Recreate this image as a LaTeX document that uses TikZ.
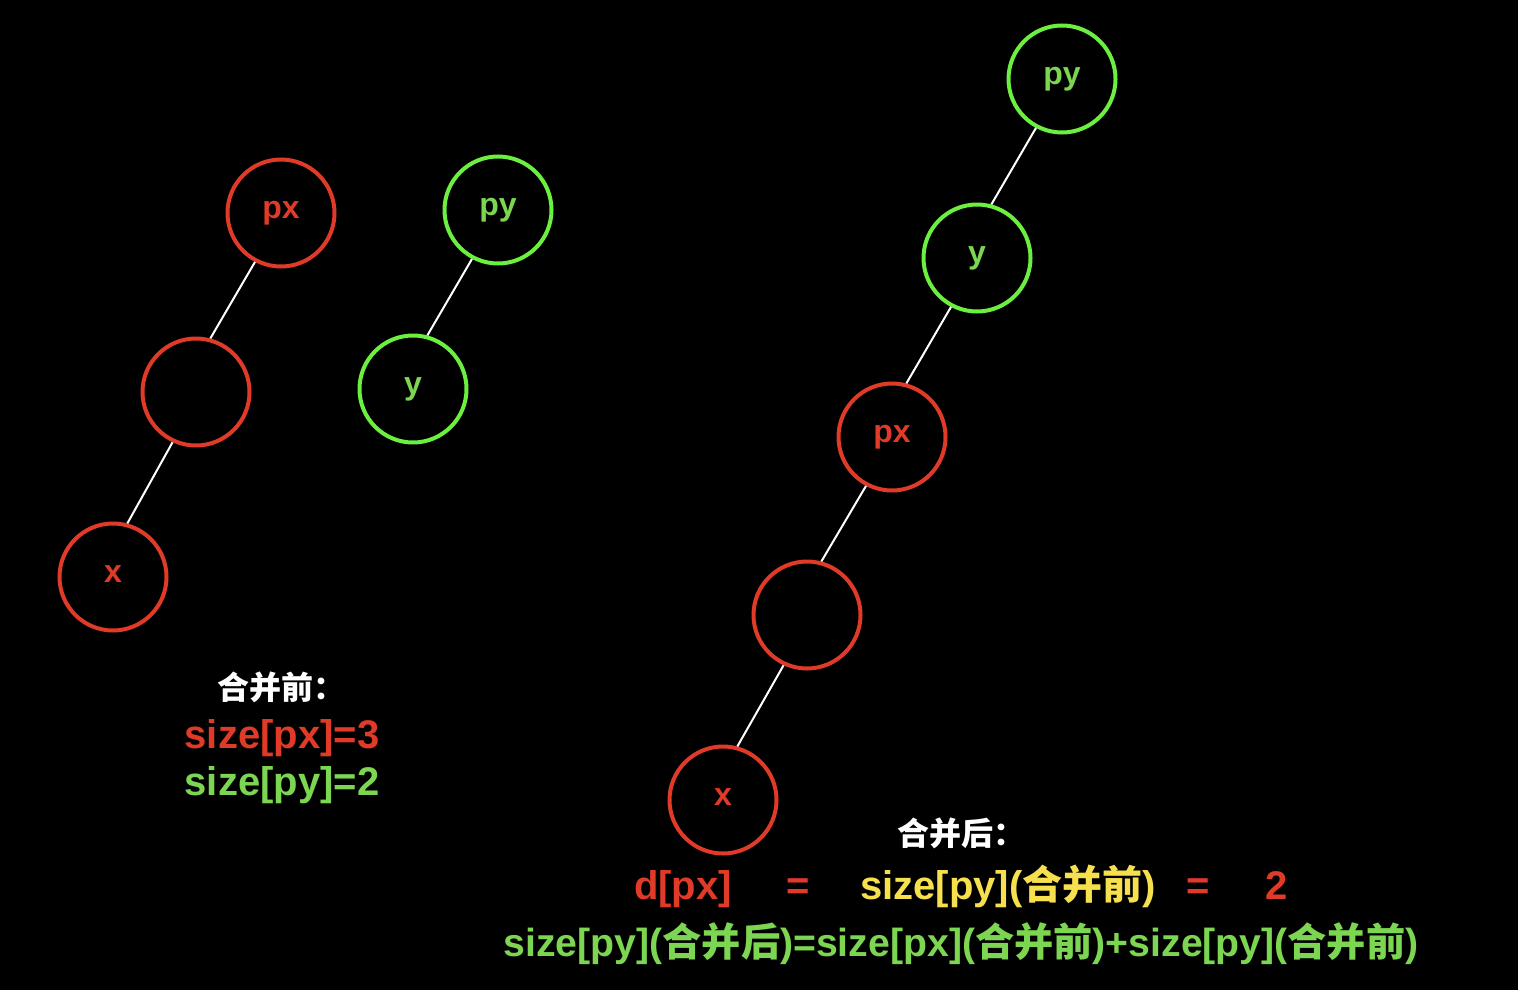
\documentclass[tikz,border=0pt]{standalone}
\usepackage{fontspec}
\setmainfont{Liberation Sans}
\newfontfamily\cjk{Noto Sans CJK SC}
\definecolor{setred}{HTML}{E03A28}
\definecolor{setgreen}{HTML}{6CF03F}
\definecolor{txtgreen}{HTML}{7DD651}
\definecolor{txtyellow}{HTML}{F6E04E}

\begin{document}
\begin{tikzpicture}[
    x=0.5pt, y=-0.5pt,
    treenode/.style={circle, line width=2pt, minimum size=53.5pt, inner sep=0pt, text height=1ex, text depth=0pt, font=\fontsize{16}{16}\selectfont\bfseries},
    rednode/.style={treenode, draw=setred, text=setred},
    greennode/.style={treenode, draw=setgreen, text=txtgreen},
    title/.style={text=white, font=\fontsize{16}{16}\selectfont\bfseries\cjk, inner sep=0pt, anchor=base},
    formula/.style={font=\fontsize{20}{20}\selectfont\bfseries, inner sep=0pt, anchor=base},
    link/.style={draw=white, line width=1pt}
]
    \useasboundingbox (0,0) rectangle (1518,990);
    \fill[black] (0,0) rectangle (1518,990);

    % before union
    \node[rednode] (pxa) at (281,213) {px};
    \node[rednode] (mida) at (196,392) {};
    \node[rednode] (xa) at (113,577) {x};
    \node[greennode] (pya) at (498,210) {py};
    \node[greennode] (ya) at (413,389) {y};

    \draw[link] (pxa.242) -- (mida.75);
    \draw[link] (mida.245) -- (xa.75);
    \draw[link] (pya.242) -- (ya.75);

    % after union
    \node[greennode] (pyb) at (1062,79) {py};
    \node[greennode] (yb) at (977,258) {y};
    \node[rednode] (pxb) at (892,437) {px};
    \node[rednode] (midb) at (807,615) {};
    \node[rednode] (xb) at (723,800) {x};

    \draw[link] (pyb.242) -- (yb.75);
    \draw[link] (yb.242) -- (pxb.75);
    \draw[link] (pxb.242) -- (midb.75);
    \draw[link] (midb.245) -- (xb.75);

    % texts
    \node[title] (before) at (281,699) {合并前：};
    \node[formula, text=setred] (sizepx) at (282,748) {size[px]=3};
    \node[formula, text=txtgreen] (sizepy) at (282,795) {size[py]=2};

    \node[title] (after) at (961,845) {合并后：};
    \node[formula, text=setred] (dpx) at (683,899) {d[px]};
    \node[formula, text=setred] (eqa) at (798,899) {=};
    \node[formula, text=txtyellow] (oldpy) at (1008,899) {size[py]({\cjk 合并前})};
    \node[formula, text=setred] (eqb) at (1198,899) {=};
    \node[formula, text=setred] (two) at (1277,899) {2};
    \node[formula, text=txtgreen, font=\fontsize{19.6}{20}\selectfont\bfseries] (sum) at (961,956) {size[py]({\cjk 合并后})=size[px]({\cjk 合并前})+size[py]({\cjk 合并前})};
\end{tikzpicture}
\end{document}
